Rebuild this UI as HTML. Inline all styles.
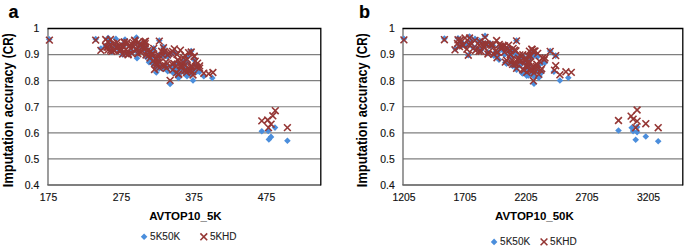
<!DOCTYPE html>
<html><head><meta charset="utf-8"><title>chart</title>
<style>
html,body{margin:0;padding:0;background:#fff;}
body{width:685px;height:249px;position:relative;overflow:hidden;font-family:"Liberation Sans",sans-serif;}
svg text{font-family:"Liberation Sans",sans-serif;}
.t{font-size:10.4px;fill:#111;stroke:#111;stroke-width:0.15px;}
.l{font-size:10px;fill:#222;stroke:#222;stroke-width:0.1px;}
.b{font-size:11.5px;font-weight:bold;fill:#000;}
.by{font-size:14px;font-weight:bold;fill:#000;}
.p{font-size:18px;font-weight:bold;fill:#000;stroke:#000;stroke-width:0.2px;}
</style></head><body>
<svg width="685" height="249" viewBox="0 0 685 249" style="position:absolute;left:0;top:0">
<rect width="685" height="249" fill="#fff"/>
<line x1="48.0" x2="320.8" y1="54.58" y2="54.58" stroke="#7f7f7f" stroke-width="1.15"/>
<line x1="48.0" x2="320.8" y1="80.67" y2="80.67" stroke="#7f7f7f" stroke-width="1.15"/>
<line x1="48.0" x2="320.8" y1="106.75" y2="106.75" stroke="#7f7f7f" stroke-width="1.15"/>
<line x1="48.0" x2="320.8" y1="132.83" y2="132.83" stroke="#7f7f7f" stroke-width="1.15"/>
<line x1="48.0" x2="320.8" y1="158.91" y2="158.91" stroke="#7f7f7f" stroke-width="1.15"/>
<line x1="47.4" x2="320.8" y1="185.0" y2="185.0" stroke="#555" stroke-width="1.4"/>
<line x1="48.0" x2="48.0" y1="28.5" y2="185.0" stroke="#686868" stroke-width="1.3"/>
<path d="M47.5 28.5L320.8 28.5L320.8 185.5" stroke="#000" stroke-width="1.3" fill="none"/>
<path d="M49.2 35.9L52.5 39.2L49.2 42.5L45.9 39.2Z" fill="#4B8EDC"/>
<path d="M95.7 35.7L99.0 39.0L95.7 42.3L92.4 39.0Z" fill="#4B8EDC"/>
<path d="M100.9 45.3L104.2 48.6L100.9 51.9L97.6 48.6Z" fill="#4B8EDC"/>
<path d="M108.1 34.8L111.4 38.1L108.1 41.4L104.8 38.1Z" fill="#4B8EDC"/>
<path d="M106.9 42.9L110.2 46.2L106.9 49.5L103.6 46.2Z" fill="#4B8EDC"/>
<path d="M115.9 35.6L119.2 38.9L115.9 42.2L112.6 38.9Z" fill="#4B8EDC"/>
<path d="M119.5 45.9L122.8 49.2L119.5 52.5L116.2 49.2Z" fill="#4B8EDC"/>
<path d="M125.0 36.2L128.3 39.5L125.0 42.8L121.7 39.5Z" fill="#4B8EDC"/>
<path d="M136.4 34.2L139.7 37.5L136.4 40.8L133.1 37.5Z" fill="#4B8EDC"/>
<path d="M130.0 48.9L133.3 52.2L130.0 55.5L126.7 52.2Z" fill="#4B8EDC"/>
<path d="M146.6 50.1L149.9 53.4L146.6 56.7L143.3 53.4Z" fill="#4B8EDC"/>
<path d="M137.0 54.9L140.3 58.2L137.0 61.5L133.7 58.2Z" fill="#4B8EDC"/>
<path d="M159.3 37.2L162.6 40.5L159.3 43.8L156.0 40.5Z" fill="#4B8EDC"/>
<path d="M163.5 43.7L166.8 47.0L163.5 50.3L160.2 47.0Z" fill="#4B8EDC"/>
<path d="M191.2 47.7L194.5 51.0L191.2 54.3L187.9 51.0Z" fill="#4B8EDC"/>
<path d="M170.1 80.7L173.4 84.0L170.1 87.3L166.8 84.0Z" fill="#4B8EDC"/>
<path d="M156.3 69.2L159.6 72.5L156.3 75.8L153.0 72.5Z" fill="#4B8EDC"/>
<path d="M149.0 59.0L152.3 62.3L149.0 65.6L145.7 62.3Z" fill="#4B8EDC"/>
<path d="M167.7 68.0L171.0 71.3L167.7 74.6L164.4 71.3Z" fill="#4B8EDC"/>
<path d="M178.5 74.7L181.8 78.0L178.5 81.3L175.2 78.0Z" fill="#4B8EDC"/>
<path d="M187.0 72.9L190.3 76.2L187.0 79.5L183.7 76.2Z" fill="#4B8EDC"/>
<path d="M193.0 77.1L196.3 80.4L193.0 83.7L189.7 80.4Z" fill="#4B8EDC"/>
<path d="M199.6 68.6L202.9 71.9L199.6 75.2L196.3 71.9Z" fill="#4B8EDC"/>
<path d="M203.8 72.9L207.1 76.2L203.8 79.5L200.5 76.2Z" fill="#4B8EDC"/>
<path d="M212.3 74.7L215.6 78.0L212.3 81.3L209.0 78.0Z" fill="#4B8EDC"/>
<path d="M261.8 128.0L265.1 131.3L261.8 134.6L258.5 131.3Z" fill="#4B8EDC"/>
<path d="M268.2 127.7L271.5 131.0L268.2 134.3L264.9 131.0Z" fill="#4B8EDC"/>
<path d="M275.0 124.3L278.3 127.6L275.0 130.9L271.7 127.6Z" fill="#4B8EDC"/>
<path d="M271.0 133.6L274.3 136.9L271.0 140.2L267.7 136.9Z" fill="#4B8EDC"/>
<path d="M268.9 136.1L272.2 139.4L268.9 142.7L265.6 139.4Z" fill="#4B8EDC"/>
<path d="M287.4 137.5L290.7 140.8L287.4 144.1L284.1 140.8Z" fill="#4B8EDC"/>
<path d="M105.6 42.8L108.9 46.1L105.6 49.4L102.3 46.1Z" fill="#4B8EDC"/>
<path d="M107.0 42.7L110.3 46.0L107.0 49.3L103.7 46.0Z" fill="#4B8EDC"/>
<path d="M108.0 42.9L111.3 46.2L108.0 49.5L104.7 46.2Z" fill="#4B8EDC"/>
<path d="M110.1 39.5L113.4 42.8L110.1 46.1L106.8 42.8Z" fill="#4B8EDC"/>
<path d="M110.6 46.3L113.9 49.6L110.6 52.9L107.3 49.6Z" fill="#4B8EDC"/>
<path d="M111.8 48.3L115.1 51.6L111.8 54.9L108.5 51.6Z" fill="#4B8EDC"/>
<path d="M114.0 45.3L117.3 48.6L114.0 51.9L110.7 48.6Z" fill="#4B8EDC"/>
<path d="M114.5 44.5L117.8 47.8L114.5 51.1L111.2 47.8Z" fill="#4B8EDC"/>
<path d="M116.1 41.7L119.4 45.0L116.1 48.3L112.8 45.0Z" fill="#4B8EDC"/>
<path d="M117.8 44.2L121.1 47.5L117.8 50.8L114.5 47.5Z" fill="#4B8EDC"/>
<path d="M119.3 46.6L122.6 49.9L119.3 53.2L116.0 49.9Z" fill="#4B8EDC"/>
<path d="M120.8 44.5L124.1 47.8L120.8 51.1L117.5 47.8Z" fill="#4B8EDC"/>
<path d="M122.6 51.1L125.9 54.4L122.6 57.7L119.3 54.4Z" fill="#4B8EDC"/>
<path d="M123.6 42.7L126.9 46.0L123.6 49.3L120.3 46.0Z" fill="#4B8EDC"/>
<path d="M124.4 39.6L127.7 42.9L124.4 46.2L121.1 42.9Z" fill="#4B8EDC"/>
<path d="M125.9 49.5L129.2 52.8L125.9 56.1L122.6 52.8Z" fill="#4B8EDC"/>
<path d="M128.0 49.7L131.3 53.0L128.0 56.3L124.7 53.0Z" fill="#4B8EDC"/>
<path d="M128.4 50.6L131.7 53.9L128.4 57.2L125.1 53.9Z" fill="#4B8EDC"/>
<path d="M130.8 43.7L134.1 47.0L130.8 50.3L127.5 47.0Z" fill="#4B8EDC"/>
<path d="M131.6 49.2L134.9 52.5L131.6 55.8L128.3 52.5Z" fill="#4B8EDC"/>
<path d="M132.3 42.8L135.6 46.1L132.3 49.4L129.0 46.1Z" fill="#4B8EDC"/>
<path d="M134.5 39.6L137.8 42.9L134.5 46.2L131.2 42.9Z" fill="#4B8EDC"/>
<path d="M135.0 38.7L138.3 42.0L135.0 45.3L131.7 42.0Z" fill="#4B8EDC"/>
<path d="M136.5 46.5L139.8 49.8L136.5 53.1L133.2 49.8Z" fill="#4B8EDC"/>
<path d="M137.8 49.5L141.1 52.8L137.8 56.1L134.5 52.8Z" fill="#4B8EDC"/>
<path d="M139.8 40.8L143.1 44.1L139.8 47.4L136.5 44.1Z" fill="#4B8EDC"/>
<path d="M140.6 43.5L143.9 46.8L140.6 50.1L137.3 46.8Z" fill="#4B8EDC"/>
<path d="M142.7 45.0L146.0 48.3L142.7 51.6L139.4 48.3Z" fill="#4B8EDC"/>
<path d="M143.3 46.7L146.6 50.0L143.3 53.3L140.0 50.0Z" fill="#4B8EDC"/>
<path d="M145.2 42.5L148.5 45.8L145.2 49.1L141.9 45.8Z" fill="#4B8EDC"/>
<path d="M146.0 45.5L149.3 48.8L146.0 52.1L142.7 48.8Z" fill="#4B8EDC"/>
<path d="M147.5 46.8L150.8 50.1L147.5 53.4L144.2 50.1Z" fill="#4B8EDC"/>
<path d="M148.6 52.4L151.9 55.7L148.6 59.0L145.3 55.7Z" fill="#4B8EDC"/>
<path d="M150.6 48.8L153.9 52.1L150.6 55.4L147.3 52.1Z" fill="#4B8EDC"/>
<path d="M152.4 51.5L155.7 54.8L152.4 58.1L149.1 54.8Z" fill="#4B8EDC"/>
<path d="M153.7 45.1L157.0 48.4L153.7 51.7L150.4 48.4Z" fill="#4B8EDC"/>
<path d="M155.1 59.8L158.4 63.1L155.1 66.4L151.8 63.1Z" fill="#4B8EDC"/>
<path d="M155.5 58.1L158.8 61.4L155.5 64.7L152.2 61.4Z" fill="#4B8EDC"/>
<path d="M156.8 63.8L160.1 67.1L156.8 70.4L153.5 67.1Z" fill="#4B8EDC"/>
<path d="M158.7 51.8L162.0 55.1L158.7 58.4L155.4 55.1Z" fill="#4B8EDC"/>
<path d="M159.3 65.1L162.6 68.4L159.3 71.7L156.0 68.4Z" fill="#4B8EDC"/>
<path d="M161.6 50.4L164.9 53.7L161.6 57.0L158.3 53.7Z" fill="#4B8EDC"/>
<path d="M162.8 52.3L166.1 55.6L162.8 58.9L159.5 55.6Z" fill="#4B8EDC"/>
<path d="M164.3 49.1L167.6 52.4L164.3 55.7L161.0 52.4Z" fill="#4B8EDC"/>
<path d="M165.5 64.3L168.8 67.6L165.5 70.9L162.2 67.6Z" fill="#4B8EDC"/>
<path d="M166.5 65.8L169.8 69.1L166.5 72.4L163.2 69.1Z" fill="#4B8EDC"/>
<path d="M167.5 53.3L170.8 56.6L167.5 59.9L164.2 56.6Z" fill="#4B8EDC"/>
<path d="M168.9 51.6L172.2 54.9L168.9 58.2L165.6 54.9Z" fill="#4B8EDC"/>
<path d="M170.9 51.0L174.2 54.3L170.9 57.6L167.6 54.3Z" fill="#4B8EDC"/>
<path d="M172.7 69.2L176.0 72.5L172.7 75.8L169.4 72.5Z" fill="#4B8EDC"/>
<path d="M173.8 61.1L177.1 64.4L173.8 67.7L170.5 64.4Z" fill="#4B8EDC"/>
<path d="M174.3 49.0L177.6 52.3L174.3 55.6L171.0 52.3Z" fill="#4B8EDC"/>
<path d="M176.5 70.3L179.8 73.6L176.5 76.9L173.2 73.6Z" fill="#4B8EDC"/>
<path d="M177.8 59.9L181.1 63.2L177.8 66.5L174.5 63.2Z" fill="#4B8EDC"/>
<path d="M178.7 71.8L182.0 75.1L178.7 78.4L175.4 75.1Z" fill="#4B8EDC"/>
<path d="M180.4 66.0L183.7 69.3L180.4 72.6L177.1 69.3Z" fill="#4B8EDC"/>
<path d="M182.0 65.5L185.3 68.8L182.0 72.1L178.7 68.8Z" fill="#4B8EDC"/>
<path d="M183.6 57.8L186.9 61.1L183.6 64.4L180.3 61.1Z" fill="#4B8EDC"/>
<path d="M184.9 69.7L188.2 73.0L184.9 76.3L181.6 73.0Z" fill="#4B8EDC"/>
<path d="M186.1 69.7L189.4 73.0L186.1 76.3L182.8 73.0Z" fill="#4B8EDC"/>
<path d="M187.3 59.2L190.6 62.5L187.3 65.8L184.0 62.5Z" fill="#4B8EDC"/>
<path d="M188.6 52.7L191.9 56.0L188.6 59.3L185.3 56.0Z" fill="#4B8EDC"/>
<path d="M190.5 70.7L193.8 74.0L190.5 77.3L187.2 74.0Z" fill="#4B8EDC"/>
<path d="M191.0 67.6L194.3 70.9L191.0 74.2L187.7 70.9Z" fill="#4B8EDC"/>
<path d="M192.5 70.2L195.8 73.5L192.5 76.8L189.2 73.5Z" fill="#4B8EDC"/>
<path d="M194.2 56.7L197.5 60.0L194.2 63.3L190.9 60.0Z" fill="#4B8EDC"/>
<path d="M195.2 61.6L198.5 64.9L195.2 68.2L191.9 64.9Z" fill="#4B8EDC"/>
<path d="M196.6 68.3L199.9 71.6L196.6 74.9L193.3 71.6Z" fill="#4B8EDC"/>
<path d="M197.6 62.7L200.9 66.0L197.6 69.3L194.3 66.0Z" fill="#4B8EDC"/>
<path d="M199.6 67.3L202.9 70.6L199.6 73.9L196.3 70.6Z" fill="#4B8EDC"/>
<path d="M150.0 57.2L153.3 60.5L150.0 63.8L146.7 60.5Z" fill="#4B8EDC"/>
<path d="M153.0 60.7L156.3 64.0L153.0 67.3L149.7 64.0Z" fill="#4B8EDC"/>
<path d="M157.0 63.7L160.3 67.0L157.0 70.3L153.7 67.0Z" fill="#4B8EDC"/>
<path d="M160.0 61.7L163.3 65.0L160.0 68.3L156.7 65.0Z" fill="#4B8EDC"/>
<path d="M163.0 65.7L166.3 69.0L163.0 72.3L159.7 69.0Z" fill="#4B8EDC"/>
<path d="M166.0 62.7L169.3 66.0L166.0 69.3L162.7 66.0Z" fill="#4B8EDC"/>
<path d="M152.0 53.7L155.3 57.0L152.0 60.3L148.7 57.0Z" fill="#4B8EDC"/>
<path d="M158.0 56.7L161.3 60.0L158.0 63.3L154.7 60.0Z" fill="#4B8EDC"/>
<path d="M146.0 53.7L149.3 57.0L146.0 60.3L142.7 57.0Z" fill="#4B8EDC"/>
<path d="M172.0 64.7L175.3 68.0L172.0 71.3L168.7 68.0Z" fill="#4B8EDC"/>
<path d="M176.0 66.7L179.3 70.0L176.0 73.3L172.7 70.0Z" fill="#4B8EDC"/>
<path d="M181.0 68.7L184.3 72.0L181.0 75.3L177.7 72.0Z" fill="#4B8EDC"/>
<path d="M185.0 65.7L188.3 69.0L185.0 72.3L181.7 69.0Z" fill="#4B8EDC"/>
<path d="M189.0 69.7L192.3 73.0L189.0 76.3L185.7 73.0Z" fill="#4B8EDC"/>
<path d="M183.0 62.7L186.3 66.0L183.0 69.3L179.7 66.0Z" fill="#4B8EDC"/>
<path d="M178.0 59.7L181.3 63.0L178.0 66.3L174.7 63.0Z" fill="#4B8EDC"/>
<path d="M192.0 66.7L195.3 70.0L192.0 73.3L188.7 70.0Z" fill="#4B8EDC"/>
<path d="M46.0 36.7L52.8 43.5M46.0 43.5L52.8 36.7" stroke="#953735" stroke-width="1.6" fill="none"/>
<path d="M92.3 36.7L99.1 43.5M92.3 43.5L99.1 36.7" stroke="#953735" stroke-width="1.6" fill="none"/>
<path d="M97.5 47.0L104.3 53.8M97.5 53.8L104.3 47.0" stroke="#953735" stroke-width="1.6" fill="none"/>
<path d="M104.7 46.4L111.5 53.2M104.7 53.2L111.5 46.4" stroke="#953735" stroke-width="1.6" fill="none"/>
<path d="M102.3 36.1L109.1 42.9M102.3 42.9L109.1 36.1" stroke="#953735" stroke-width="1.6" fill="none"/>
<path d="M104.6 38.5L111.4 45.3M104.6 45.3L111.4 38.5" stroke="#953735" stroke-width="1.6" fill="none"/>
<path d="M107.1 36.1L113.9 42.9M107.1 42.9L113.9 36.1" stroke="#953735" stroke-width="1.6" fill="none"/>
<path d="M110.1 40.4L116.9 47.2M110.1 47.2L116.9 40.4" stroke="#953735" stroke-width="1.6" fill="none"/>
<path d="M113.6 39.1L120.4 45.9M113.6 45.9L120.4 39.1" stroke="#953735" stroke-width="1.6" fill="none"/>
<path d="M115.6 42.8L122.4 49.6M115.6 49.6L122.4 42.8" stroke="#953735" stroke-width="1.6" fill="none"/>
<path d="M120.9 38.5L127.7 45.3M120.9 45.3L127.7 38.5" stroke="#953735" stroke-width="1.6" fill="none"/>
<path d="M119.1 42.1L125.9 48.9M119.1 48.9L125.9 42.1" stroke="#953735" stroke-width="1.6" fill="none"/>
<path d="M123.9 39.1L130.7 45.9M123.9 45.9L130.7 39.1" stroke="#953735" stroke-width="1.6" fill="none"/>
<path d="M126.3 42.1L133.1 48.9M126.3 48.9L133.1 42.1" stroke="#953735" stroke-width="1.6" fill="none"/>
<path d="M131.2 36.7L138.0 43.5M131.2 43.5L138.0 36.7" stroke="#953735" stroke-width="1.6" fill="none"/>
<path d="M134.6 39.1L141.4 45.9M134.6 45.9L141.4 39.1" stroke="#953735" stroke-width="1.6" fill="none"/>
<path d="M142.0 37.9L148.8 44.7M142.0 44.7L148.8 37.9" stroke="#953735" stroke-width="1.6" fill="none"/>
<path d="M139.6 42.8L146.4 49.6M139.6 49.6L146.4 42.8" stroke="#953735" stroke-width="1.6" fill="none"/>
<path d="M117.6 47.1L124.4 53.9M117.6 53.9L124.4 47.1" stroke="#953735" stroke-width="1.6" fill="none"/>
<path d="M122.6 46.1L129.4 52.9M122.6 52.9L129.4 46.1" stroke="#953735" stroke-width="1.6" fill="none"/>
<path d="M132.6 46.1L139.4 52.9M132.6 52.9L139.4 46.1" stroke="#953735" stroke-width="1.6" fill="none"/>
<path d="M137.6 49.1L144.4 55.9M137.6 55.9L144.4 49.1" stroke="#953735" stroke-width="1.6" fill="none"/>
<path d="M140.8 38.3L147.6 45.1M140.8 45.1L147.6 38.3" stroke="#953735" stroke-width="1.6" fill="none"/>
<path d="M155.9 37.7L162.7 44.5M155.9 44.5L162.7 37.7" stroke="#953735" stroke-width="1.6" fill="none"/>
<path d="M160.1 44.4L166.9 51.2M160.1 51.2L166.9 44.4" stroke="#953735" stroke-width="1.6" fill="none"/>
<path d="M169.1 48.0L175.9 54.8M169.1 54.8L175.9 48.0" stroke="#953735" stroke-width="1.6" fill="none"/>
<path d="M177.0 46.8L183.8 53.6M177.0 53.6L183.8 46.8" stroke="#953735" stroke-width="1.6" fill="none"/>
<path d="M187.8 48.6L194.6 55.4M187.8 55.4L194.6 48.6" stroke="#953735" stroke-width="1.6" fill="none"/>
<path d="M190.8 52.8L197.6 59.6M190.8 59.6L197.6 52.8" stroke="#953735" stroke-width="1.6" fill="none"/>
<path d="M173.6 51.1L180.4 57.9M173.6 57.9L180.4 51.1" stroke="#953735" stroke-width="1.6" fill="none"/>
<path d="M181.6 52.1L188.4 58.9M181.6 58.9L188.4 52.1" stroke="#953735" stroke-width="1.6" fill="none"/>
<path d="M166.7 77.0L173.5 83.8M166.7 83.8L173.5 77.0" stroke="#953735" stroke-width="1.6" fill="none"/>
<path d="M151.1 66.1L157.9 72.9M151.1 72.9L157.9 66.1" stroke="#953735" stroke-width="1.6" fill="none"/>
<path d="M175.1 71.0L181.9 77.8M175.1 77.8L181.9 71.0" stroke="#953735" stroke-width="1.6" fill="none"/>
<path d="M183.1 69.1L189.9 75.9M183.1 75.9L189.9 69.1" stroke="#953735" stroke-width="1.6" fill="none"/>
<path d="M189.6 71.6L196.4 78.4M189.6 78.4L196.4 71.6" stroke="#953735" stroke-width="1.6" fill="none"/>
<path d="M196.2 62.5L203.0 69.3M196.2 69.3L203.0 62.5" stroke="#953735" stroke-width="1.6" fill="none"/>
<path d="M188.4 63.1L195.2 69.9M188.4 69.9L195.2 63.1" stroke="#953735" stroke-width="1.6" fill="none"/>
<path d="M200.4 69.8L207.2 76.6M200.4 76.6L207.2 69.8" stroke="#953735" stroke-width="1.6" fill="none"/>
<path d="M209.5 69.1L216.3 75.9M209.5 75.9L216.3 69.1" stroke="#953735" stroke-width="1.6" fill="none"/>
<path d="M205.3 70.4L212.1 77.2M205.3 77.2L212.1 70.4" stroke="#953735" stroke-width="1.6" fill="none"/>
<path d="M258.4 117.5L265.2 124.3M258.4 124.3L265.2 117.5" stroke="#953735" stroke-width="1.6" fill="none"/>
<path d="M264.3 116.6L271.1 123.4M264.3 123.4L271.1 116.6" stroke="#953735" stroke-width="1.6" fill="none"/>
<path d="M267.7 120.8L274.5 127.6M267.7 127.6L274.5 120.8" stroke="#953735" stroke-width="1.6" fill="none"/>
<path d="M265.1 124.2L271.9 131.0M265.1 131.0L271.9 124.2" stroke="#953735" stroke-width="1.6" fill="none"/>
<path d="M269.4 112.4L276.2 119.2M269.4 119.2L276.2 112.4" stroke="#953735" stroke-width="1.6" fill="none"/>
<path d="M271.9 107.3L278.7 114.1M271.9 114.1L278.7 107.3" stroke="#953735" stroke-width="1.6" fill="none"/>
<path d="M284.0 124.2L290.8 131.0M284.0 131.0L290.8 124.2" stroke="#953735" stroke-width="1.6" fill="none"/>
<path d="M102.2 42.9L109.0 49.7M102.2 49.7L109.0 42.9" stroke="#953735" stroke-width="1.6" fill="none"/>
<path d="M103.6 43.7L110.4 50.5M103.6 50.5L110.4 43.7" stroke="#953735" stroke-width="1.6" fill="none"/>
<path d="M104.6 43.8L111.4 50.6M104.6 50.6L111.4 43.8" stroke="#953735" stroke-width="1.6" fill="none"/>
<path d="M106.7 41.2L113.5 48.0M106.7 48.0L113.5 41.2" stroke="#953735" stroke-width="1.6" fill="none"/>
<path d="M107.2 46.8L114.0 53.6M107.2 53.6L114.0 46.8" stroke="#953735" stroke-width="1.6" fill="none"/>
<path d="M108.4 48.0L115.2 54.8M108.4 54.8L115.2 48.0" stroke="#953735" stroke-width="1.6" fill="none"/>
<path d="M110.6 47.2L117.4 54.0M110.6 54.0L117.4 47.2" stroke="#953735" stroke-width="1.6" fill="none"/>
<path d="M111.1 46.7L117.9 53.5M111.1 53.5L117.9 46.7" stroke="#953735" stroke-width="1.6" fill="none"/>
<path d="M112.7 43.9L119.5 50.7M112.7 50.7L119.5 43.9" stroke="#953735" stroke-width="1.6" fill="none"/>
<path d="M114.4 43.9L121.2 50.7M114.4 50.7L121.2 43.9" stroke="#953735" stroke-width="1.6" fill="none"/>
<path d="M115.9 47.3L122.7 54.1M115.9 54.1L122.7 47.3" stroke="#953735" stroke-width="1.6" fill="none"/>
<path d="M117.4 45.7L124.2 52.5M117.4 52.5L124.2 45.7" stroke="#953735" stroke-width="1.6" fill="none"/>
<path d="M119.2 50.6L126.0 57.4M119.2 57.4L126.0 50.6" stroke="#953735" stroke-width="1.6" fill="none"/>
<path d="M120.2 43.9L127.0 50.7M120.2 50.7L127.0 43.9" stroke="#953735" stroke-width="1.6" fill="none"/>
<path d="M121.0 39.1L127.8 45.9M121.0 45.9L127.8 39.1" stroke="#953735" stroke-width="1.6" fill="none"/>
<path d="M122.5 50.1L129.3 56.9M122.5 56.9L129.3 50.1" stroke="#953735" stroke-width="1.6" fill="none"/>
<path d="M124.6 51.4L131.4 58.2M124.6 58.2L131.4 51.4" stroke="#953735" stroke-width="1.6" fill="none"/>
<path d="M125.0 50.8L131.8 57.6M125.0 57.6L131.8 50.8" stroke="#953735" stroke-width="1.6" fill="none"/>
<path d="M127.4 45.1L134.2 51.9M127.4 51.9L134.2 45.1" stroke="#953735" stroke-width="1.6" fill="none"/>
<path d="M128.2 49.9L135.0 56.7M128.2 56.7L135.0 49.9" stroke="#953735" stroke-width="1.6" fill="none"/>
<path d="M128.9 41.4L135.7 48.2M128.9 48.2L135.7 41.4" stroke="#953735" stroke-width="1.6" fill="none"/>
<path d="M131.1 40.2L137.9 47.0M131.1 47.0L137.9 40.2" stroke="#953735" stroke-width="1.6" fill="none"/>
<path d="M131.6 37.6L138.4 44.4M131.6 44.4L138.4 37.6" stroke="#953735" stroke-width="1.6" fill="none"/>
<path d="M133.1 46.4L139.9 53.2M133.1 53.2L139.9 46.4" stroke="#953735" stroke-width="1.6" fill="none"/>
<path d="M134.4 50.3L141.2 57.1M134.4 57.1L141.2 50.3" stroke="#953735" stroke-width="1.6" fill="none"/>
<path d="M136.4 40.6L143.2 47.4M136.4 47.4L143.2 40.6" stroke="#953735" stroke-width="1.6" fill="none"/>
<path d="M137.2 41.7L144.0 48.5M137.2 48.5L144.0 41.7" stroke="#953735" stroke-width="1.6" fill="none"/>
<path d="M139.3 43.3L146.1 50.1M139.3 50.1L146.1 43.3" stroke="#953735" stroke-width="1.6" fill="none"/>
<path d="M139.9 45.1L146.7 51.9M139.9 51.9L146.7 45.1" stroke="#953735" stroke-width="1.6" fill="none"/>
<path d="M141.8 40.3L148.6 47.1M141.8 47.1L148.6 40.3" stroke="#953735" stroke-width="1.6" fill="none"/>
<path d="M142.6 44.0L149.4 50.8M142.6 50.8L149.4 44.0" stroke="#953735" stroke-width="1.6" fill="none"/>
<path d="M144.1 47.3L150.9 54.1M144.1 54.1L150.9 47.3" stroke="#953735" stroke-width="1.6" fill="none"/>
<path d="M145.2 52.2L152.0 59.0M145.2 59.0L152.0 52.2" stroke="#953735" stroke-width="1.6" fill="none"/>
<path d="M147.2 47.9L154.0 54.7M147.2 54.7L154.0 47.9" stroke="#953735" stroke-width="1.6" fill="none"/>
<path d="M149.0 50.1L155.8 56.9M149.0 56.9L155.8 50.1" stroke="#953735" stroke-width="1.6" fill="none"/>
<path d="M150.3 45.0L157.1 51.8M150.3 51.8L157.1 45.0" stroke="#953735" stroke-width="1.6" fill="none"/>
<path d="M151.7 59.3L158.5 66.1M151.7 66.1L158.5 59.3" stroke="#953735" stroke-width="1.6" fill="none"/>
<path d="M152.1 55.6L158.9 62.4M152.1 62.4L158.9 55.6" stroke="#953735" stroke-width="1.6" fill="none"/>
<path d="M153.4 61.3L160.2 68.1M153.4 68.1L160.2 61.3" stroke="#953735" stroke-width="1.6" fill="none"/>
<path d="M155.3 51.6L162.1 58.4M155.3 58.4L162.1 51.6" stroke="#953735" stroke-width="1.6" fill="none"/>
<path d="M155.9 64.4L162.7 71.2M155.9 71.2L162.7 64.4" stroke="#953735" stroke-width="1.6" fill="none"/>
<path d="M158.2 47.9L165.0 54.7M158.2 54.7L165.0 47.9" stroke="#953735" stroke-width="1.6" fill="none"/>
<path d="M159.4 51.6L166.2 58.4M159.4 58.4L166.2 51.6" stroke="#953735" stroke-width="1.6" fill="none"/>
<path d="M160.9 48.1L167.7 54.9M160.9 54.9L167.7 48.1" stroke="#953735" stroke-width="1.6" fill="none"/>
<path d="M162.1 62.2L168.9 69.0M162.1 69.0L168.9 62.2" stroke="#953735" stroke-width="1.6" fill="none"/>
<path d="M163.1 64.8L169.9 71.6M163.1 71.6L169.9 64.8" stroke="#953735" stroke-width="1.6" fill="none"/>
<path d="M164.1 51.6L170.9 58.4M164.1 58.4L170.9 51.6" stroke="#953735" stroke-width="1.6" fill="none"/>
<path d="M165.5 50.1L172.3 56.9M165.5 56.9L172.3 50.1" stroke="#953735" stroke-width="1.6" fill="none"/>
<path d="M167.5 49.4L174.3 56.2M167.5 56.2L174.3 49.4" stroke="#953735" stroke-width="1.6" fill="none"/>
<path d="M169.3 66.5L176.1 73.3M169.3 73.3L176.1 66.5" stroke="#953735" stroke-width="1.6" fill="none"/>
<path d="M170.4 60.0L177.2 66.8M170.4 66.8L177.2 60.0" stroke="#953735" stroke-width="1.6" fill="none"/>
<path d="M170.9 45.5L177.7 52.3M170.9 52.3L177.7 45.5" stroke="#953735" stroke-width="1.6" fill="none"/>
<path d="M173.1 69.4L179.9 76.2M173.1 76.2L179.9 69.4" stroke="#953735" stroke-width="1.6" fill="none"/>
<path d="M174.4 56.7L181.2 63.5M174.4 63.5L181.2 56.7" stroke="#953735" stroke-width="1.6" fill="none"/>
<path d="M175.3 70.6L182.1 77.4M175.3 77.4L182.1 70.6" stroke="#953735" stroke-width="1.6" fill="none"/>
<path d="M177.0 62.2L183.8 69.0M177.0 69.0L183.8 62.2" stroke="#953735" stroke-width="1.6" fill="none"/>
<path d="M178.6 61.9L185.4 68.7M178.6 68.7L185.4 61.9" stroke="#953735" stroke-width="1.6" fill="none"/>
<path d="M180.2 54.5L187.0 61.3M180.2 61.3L187.0 54.5" stroke="#953735" stroke-width="1.6" fill="none"/>
<path d="M181.5 67.2L188.3 74.0M181.5 74.0L188.3 67.2" stroke="#953735" stroke-width="1.6" fill="none"/>
<path d="M182.7 66.6L189.5 73.4M182.7 73.4L189.5 66.6" stroke="#953735" stroke-width="1.6" fill="none"/>
<path d="M183.9 56.0L190.7 62.8M183.9 62.8L190.7 56.0" stroke="#953735" stroke-width="1.6" fill="none"/>
<path d="M185.2 49.3L192.0 56.1M185.2 56.1L192.0 49.3" stroke="#953735" stroke-width="1.6" fill="none"/>
<path d="M187.1 66.9L193.9 73.7M187.1 73.7L193.9 66.9" stroke="#953735" stroke-width="1.6" fill="none"/>
<path d="M187.6 64.2L194.4 71.0M187.6 71.0L194.4 64.2" stroke="#953735" stroke-width="1.6" fill="none"/>
<path d="M189.1 68.3L195.9 75.1M189.1 75.1L195.9 68.3" stroke="#953735" stroke-width="1.6" fill="none"/>
<path d="M190.8 53.1L197.6 59.9M190.8 59.9L197.6 53.1" stroke="#953735" stroke-width="1.6" fill="none"/>
<path d="M191.8 57.7L198.6 64.5M191.8 64.5L198.6 57.7" stroke="#953735" stroke-width="1.6" fill="none"/>
<path d="M193.2 63.6L200.0 70.4M193.2 70.4L200.0 63.6" stroke="#953735" stroke-width="1.6" fill="none"/>
<path d="M194.2 59.8L201.0 66.6M194.2 66.6L201.0 59.8" stroke="#953735" stroke-width="1.6" fill="none"/>
<path d="M196.2 64.7L203.0 71.5M196.2 71.5L203.0 64.7" stroke="#953735" stroke-width="1.6" fill="none"/>
<path d="M146.6 54.6L153.4 61.4M146.6 61.4L153.4 54.6" stroke="#953735" stroke-width="1.6" fill="none"/>
<path d="M149.6 57.6L156.4 64.4M149.6 64.4L156.4 57.6" stroke="#953735" stroke-width="1.6" fill="none"/>
<path d="M153.6 59.6L160.4 66.4M153.6 66.4L160.4 59.6" stroke="#953735" stroke-width="1.6" fill="none"/>
<path d="M156.6 58.6L163.4 65.4M156.6 65.4L163.4 58.6" stroke="#953735" stroke-width="1.6" fill="none"/>
<path d="M159.6 62.6L166.4 69.4M159.6 69.4L166.4 62.6" stroke="#953735" stroke-width="1.6" fill="none"/>
<path d="M162.6 58.6L169.4 65.4M162.6 65.4L169.4 58.6" stroke="#953735" stroke-width="1.6" fill="none"/>
<path d="M148.6 51.6L155.4 58.4M148.6 58.4L155.4 51.6" stroke="#953735" stroke-width="1.6" fill="none"/>
<path d="M154.6 53.6L161.4 60.4M154.6 60.4L161.4 53.6" stroke="#953735" stroke-width="1.6" fill="none"/>
<path d="M142.6 51.6L149.4 58.4M142.6 58.4L149.4 51.6" stroke="#953735" stroke-width="1.6" fill="none"/>
<path d="M168.6 60.6L175.4 67.4M168.6 67.4L175.4 60.6" stroke="#953735" stroke-width="1.6" fill="none"/>
<path d="M172.6 62.6L179.4 69.4M172.6 69.4L179.4 62.6" stroke="#953735" stroke-width="1.6" fill="none"/>
<path d="M177.6 64.6L184.4 71.4M177.6 71.4L184.4 64.6" stroke="#953735" stroke-width="1.6" fill="none"/>
<path d="M181.6 61.6L188.4 68.4M181.6 68.4L188.4 61.6" stroke="#953735" stroke-width="1.6" fill="none"/>
<path d="M185.6 65.6L192.4 72.4M185.6 72.4L192.4 65.6" stroke="#953735" stroke-width="1.6" fill="none"/>
<path d="M179.6 58.6L186.4 65.4M179.6 65.4L186.4 58.6" stroke="#953735" stroke-width="1.6" fill="none"/>
<path d="M174.6 56.6L181.4 63.4M174.6 63.4L181.4 56.6" stroke="#953735" stroke-width="1.6" fill="none"/>
<path d="M188.6 62.6L195.4 69.4M188.6 69.4L195.4 62.6" stroke="#953735" stroke-width="1.6" fill="none"/>
<text x="39.3" y="32" text-anchor="end" class="t">1</text>
<text x="39.3" y="58" text-anchor="end" class="t">0.9</text>
<text x="39.3" y="85" text-anchor="end" class="t">0.8</text>
<text x="39.3" y="111" text-anchor="end" class="t">0.7</text>
<text x="39.3" y="137" text-anchor="end" class="t">0.6</text>
<text x="39.3" y="163" text-anchor="end" class="t">0.5</text>
<text x="39.3" y="189" text-anchor="end" class="t">0.4</text>
<text x="48.5" y="201.2" text-anchor="middle" class="t">175</text>
<text x="121.5" y="201.2" text-anchor="middle" class="t">275</text>
<text x="194" y="201.2" text-anchor="middle" class="t">375</text>
<text x="266.5" y="201.2" text-anchor="middle" class="t">475</text>
<text x="185.4" y="220" text-anchor="middle" class="b">AVTOP10_5K</text>
<text transform="translate(12.9,187.3) rotate(-90)" textLength="65.9" lengthAdjust="spacingAndGlyphs" class="by">Imputation</text>
<text transform="translate(12.9,117.2) rotate(-90)" textLength="54.6" lengthAdjust="spacingAndGlyphs" class="by">accuracy</text>
<text transform="translate(12.9,58.2) rotate(-90)" textLength="24.8" lengthAdjust="spacingAndGlyphs" class="by">(CR)</text>
<path d="M144.1 233.5L147.4 236.8L144.1 240.1L140.8 236.8Z" fill="#4B8EDC"/>
<text x="150.1" y="240.1" class="l">5K50K</text>
<path d="M200.4 233.4L207.2 240.2M200.4 240.2L207.2 233.4" stroke="#953735" stroke-width="1.6" fill="none"/>
<text x="209.9" y="240.1" class="l">5KHD</text>
<line x1="403.0" x2="682.8" y1="54.58" y2="54.58" stroke="#7f7f7f" stroke-width="1.15"/>
<line x1="403.0" x2="682.8" y1="80.67" y2="80.67" stroke="#7f7f7f" stroke-width="1.15"/>
<line x1="403.0" x2="682.8" y1="106.75" y2="106.75" stroke="#7f7f7f" stroke-width="1.15"/>
<line x1="403.0" x2="682.8" y1="132.83" y2="132.83" stroke="#7f7f7f" stroke-width="1.15"/>
<line x1="403.0" x2="682.8" y1="158.91" y2="158.91" stroke="#7f7f7f" stroke-width="1.15"/>
<line x1="402.4" x2="682.8" y1="185.0" y2="185.0" stroke="#555" stroke-width="1.4"/>
<line x1="403.0" x2="403.0" y1="28.5" y2="185.0" stroke="#686868" stroke-width="1.3"/>
<path d="M402.5 28.5L682.8 28.5L682.8 185.5" stroke="#000" stroke-width="1.3" fill="none"/>
<path d="M403.9 35.5L407.2 38.8L403.9 42.1L400.6 38.8Z" fill="#4B8EDC"/>
<path d="M444.4 35.3L447.7 38.6L444.4 41.9L441.1 38.6Z" fill="#4B8EDC"/>
<path d="M458.0 35.0L461.3 38.3L458.0 41.6L454.7 38.3Z" fill="#4B8EDC"/>
<path d="M455.5 45.5L458.8 48.8L455.5 52.1L452.2 48.8Z" fill="#4B8EDC"/>
<path d="M469.5 33.2L472.8 36.5L469.5 39.8L466.2 36.5Z" fill="#4B8EDC"/>
<path d="M468.3 51.9L471.6 55.2L468.3 58.5L465.0 55.2Z" fill="#4B8EDC"/>
<path d="M475.0 35.6L478.3 38.9L475.0 42.2L471.7 38.9Z" fill="#4B8EDC"/>
<path d="M485.0 32.6L488.3 35.9L485.0 39.2L481.7 35.9Z" fill="#4B8EDC"/>
<path d="M516.5 37.2L519.8 40.5L516.5 43.8L513.2 40.5Z" fill="#4B8EDC"/>
<path d="M550.2 47.7L553.5 51.0L550.2 54.3L546.9 51.0Z" fill="#4B8EDC"/>
<path d="M555.7 52.3L559.0 55.6L555.7 58.9L552.4 55.6Z" fill="#4B8EDC"/>
<path d="M534.0 80.5L537.3 83.8L534.0 87.1L530.7 83.8Z" fill="#4B8EDC"/>
<path d="M528.5 72.1L531.8 75.4L528.5 78.7L525.2 75.4Z" fill="#4B8EDC"/>
<path d="M522.0 69.7L525.3 73.0L522.0 76.3L518.7 73.0Z" fill="#4B8EDC"/>
<path d="M539.4 72.7L542.7 76.0L539.4 79.3L536.1 76.0Z" fill="#4B8EDC"/>
<path d="M499.0 56.4L502.3 59.7L499.0 63.0L495.7 59.7Z" fill="#4B8EDC"/>
<path d="M559.9 77.2L563.2 80.5L559.9 83.8L556.6 80.5Z" fill="#4B8EDC"/>
<path d="M568.3 74.5L571.6 77.8L568.3 81.1L565.0 77.8Z" fill="#4B8EDC"/>
<path d="M553.9 68.5L557.2 71.8L553.9 75.1L550.6 71.8Z" fill="#4B8EDC"/>
<path d="M618.5 127.2L621.8 130.5L618.5 133.8L615.2 130.5Z" fill="#4B8EDC"/>
<path d="M631.7 124.4L635.0 127.7L631.7 131.0L628.4 127.7Z" fill="#4B8EDC"/>
<path d="M633.1 127.8L636.4 131.1L633.1 134.4L629.8 131.1Z" fill="#4B8EDC"/>
<path d="M637.1 128.8L640.4 132.1L637.1 135.4L633.8 132.1Z" fill="#4B8EDC"/>
<path d="M635.7 136.5L639.0 139.8L635.7 143.1L632.4 139.8Z" fill="#4B8EDC"/>
<path d="M645.8 133.2L649.1 136.5L645.8 139.8L642.5 136.5Z" fill="#4B8EDC"/>
<path d="M658.2 137.9L661.5 141.2L658.2 144.5L654.9 141.2Z" fill="#4B8EDC"/>
<path d="M637.1 123.8L640.4 127.1L637.1 130.4L633.8 127.1Z" fill="#4B8EDC"/>
<path d="M459.5 41.8L462.8 45.1L459.5 48.4L456.2 45.1Z" fill="#4B8EDC"/>
<path d="M462.7 41.6L466.0 44.9L462.7 48.2L459.4 44.9Z" fill="#4B8EDC"/>
<path d="M463.0 40.3L466.3 43.6L463.0 46.9L459.7 43.6Z" fill="#4B8EDC"/>
<path d="M466.9 42.6L470.2 45.9L466.9 49.2L463.6 45.9Z" fill="#4B8EDC"/>
<path d="M468.9 39.2L472.2 42.5L468.9 45.8L465.6 42.5Z" fill="#4B8EDC"/>
<path d="M471.6 37.7L474.9 41.0L471.6 44.3L468.3 41.0Z" fill="#4B8EDC"/>
<path d="M473.3 44.1L476.6 47.4L473.3 50.7L470.0 47.4Z" fill="#4B8EDC"/>
<path d="M475.5 44.4L478.8 47.7L475.5 51.0L472.2 47.7Z" fill="#4B8EDC"/>
<path d="M479.1 38.8L482.4 42.1L479.1 45.4L475.8 42.1Z" fill="#4B8EDC"/>
<path d="M479.0 46.7L482.3 50.0L479.0 53.3L475.7 50.0Z" fill="#4B8EDC"/>
<path d="M479.6 37.4L482.9 40.7L479.6 44.0L476.3 40.7Z" fill="#4B8EDC"/>
<path d="M481.2 46.6L484.5 49.9L481.2 53.2L477.9 49.9Z" fill="#4B8EDC"/>
<path d="M482.8 40.8L486.1 44.1L482.8 47.4L479.5 44.1Z" fill="#4B8EDC"/>
<path d="M484.1 42.7L487.4 46.0L484.1 49.3L480.8 46.0Z" fill="#4B8EDC"/>
<path d="M485.3 39.9L488.6 43.2L485.3 46.5L482.0 43.2Z" fill="#4B8EDC"/>
<path d="M486.7 41.4L490.0 44.7L486.7 48.0L483.4 44.7Z" fill="#4B8EDC"/>
<path d="M487.9 49.8L491.2 53.1L487.9 56.4L484.6 53.1Z" fill="#4B8EDC"/>
<path d="M488.4 49.3L491.7 52.6L488.4 55.9L485.1 52.6Z" fill="#4B8EDC"/>
<path d="M490.1 40.1L493.4 43.4L490.1 46.7L486.8 43.4Z" fill="#4B8EDC"/>
<path d="M491.7 43.2L495.0 46.5L491.7 49.8L488.4 46.5Z" fill="#4B8EDC"/>
<path d="M492.9 42.3L496.2 45.6L492.9 48.9L489.6 45.6Z" fill="#4B8EDC"/>
<path d="M493.9 52.5L497.2 55.8L493.9 59.1L490.6 55.8Z" fill="#4B8EDC"/>
<path d="M495.4 48.9L498.7 52.2L495.4 55.5L492.1 52.2Z" fill="#4B8EDC"/>
<path d="M497.0 53.6L500.3 56.9L497.0 60.2L493.7 56.9Z" fill="#4B8EDC"/>
<path d="M497.8 49.0L501.1 52.3L497.8 55.6L494.5 52.3Z" fill="#4B8EDC"/>
<path d="M499.3 43.3L502.6 46.6L499.3 49.9L496.0 46.6Z" fill="#4B8EDC"/>
<path d="M500.5 44.3L503.8 47.6L500.5 50.9L497.2 47.6Z" fill="#4B8EDC"/>
<path d="M501.5 45.9L504.8 49.2L501.5 52.5L498.2 49.2Z" fill="#4B8EDC"/>
<path d="M502.6 46.6L505.9 49.9L502.6 53.2L499.3 49.9Z" fill="#4B8EDC"/>
<path d="M504.6 44.9L507.9 48.2L504.6 51.5L501.3 48.2Z" fill="#4B8EDC"/>
<path d="M505.3 59.2L508.6 62.5L505.3 65.8L502.0 62.5Z" fill="#4B8EDC"/>
<path d="M507.6 46.6L510.9 49.9L507.6 53.2L504.3 49.9Z" fill="#4B8EDC"/>
<path d="M509.6 49.0L512.9 52.3L509.6 55.6L506.3 52.3Z" fill="#4B8EDC"/>
<path d="M510.3 53.3L513.6 56.6L510.3 59.9L507.0 56.6Z" fill="#4B8EDC"/>
<path d="M511.4 60.0L514.7 63.3L511.4 66.6L508.1 63.3Z" fill="#4B8EDC"/>
<path d="M513.1 46.5L516.4 49.8L513.1 53.1L509.8 49.8Z" fill="#4B8EDC"/>
<path d="M514.9 62.7L518.2 66.0L514.9 69.3L511.6 66.0Z" fill="#4B8EDC"/>
<path d="M515.9 51.3L519.2 54.6L515.9 57.9L512.6 54.6Z" fill="#4B8EDC"/>
<path d="M517.4 58.6L520.7 61.9L517.4 65.2L514.1 61.9Z" fill="#4B8EDC"/>
<path d="M519.9 54.8L523.2 58.1L519.9 61.4L516.6 58.1Z" fill="#4B8EDC"/>
<path d="M521.2 60.7L524.5 64.0L521.2 67.3L517.9 64.0Z" fill="#4B8EDC"/>
<path d="M522.8 53.0L526.1 56.3L522.8 59.6L519.5 56.3Z" fill="#4B8EDC"/>
<path d="M524.9 58.8L528.2 62.1L524.9 65.4L521.6 62.1Z" fill="#4B8EDC"/>
<path d="M526.5 60.5L529.8 63.8L526.5 67.1L523.2 63.8Z" fill="#4B8EDC"/>
<path d="M527.9 55.0L531.2 58.3L527.9 61.6L524.6 58.3Z" fill="#4B8EDC"/>
<path d="M529.4 52.0L532.7 55.3L529.4 58.6L526.1 55.3Z" fill="#4B8EDC"/>
<path d="M529.8 63.2L533.1 66.5L529.8 69.8L526.5 66.5Z" fill="#4B8EDC"/>
<path d="M532.6 67.7L535.9 71.0L532.6 74.3L529.3 71.0Z" fill="#4B8EDC"/>
<path d="M533.0 52.3L536.3 55.6L533.0 58.9L529.7 55.6Z" fill="#4B8EDC"/>
<path d="M535.0 52.3L538.3 55.6L535.0 58.9L531.7 55.6Z" fill="#4B8EDC"/>
<path d="M536.5 66.1L539.8 69.4L536.5 72.7L533.2 69.4Z" fill="#4B8EDC"/>
<path d="M537.7 53.3L541.0 56.6L537.7 59.9L534.4 56.6Z" fill="#4B8EDC"/>
<path d="M539.3 61.5L542.6 64.8L539.3 68.1L536.0 64.8Z" fill="#4B8EDC"/>
<path d="M541.7 68.7L545.0 72.0L541.7 75.3L538.4 72.0Z" fill="#4B8EDC"/>
<path d="M542.5 59.5L545.8 62.8L542.5 66.1L539.2 62.8Z" fill="#4B8EDC"/>
<path d="M545.0 59.3L548.3 62.6L545.0 65.9L541.7 62.6Z" fill="#4B8EDC"/>
<path d="M502.5 45.0L505.8 48.3L502.5 51.6L499.2 48.3Z" fill="#4B8EDC"/>
<path d="M508.6 44.9L511.9 48.2L508.6 51.5L505.3 48.2Z" fill="#4B8EDC"/>
<path d="M504.5 51.5L507.8 54.8L504.5 58.1L501.2 54.8Z" fill="#4B8EDC"/>
<path d="M510.6 54.2L513.9 57.5L510.6 60.8L507.3 57.5Z" fill="#4B8EDC"/>
<path d="M506.5 60.3L509.8 63.6L506.5 66.9L503.2 63.6Z" fill="#4B8EDC"/>
<path d="M512.6 62.7L515.9 66.0L512.6 69.3L509.3 66.0Z" fill="#4B8EDC"/>
<path d="M516.6 66.5L519.9 69.8L516.6 73.1L513.3 69.8Z" fill="#4B8EDC"/>
<path d="M518.6 58.9L521.9 62.2L518.6 65.5L515.3 62.2Z" fill="#4B8EDC"/>
<path d="M514.6 49.2L517.9 52.5L514.6 55.8L511.3 52.5Z" fill="#4B8EDC"/>
<path d="M524.7 59.1L528.0 62.4L524.7 65.7L521.4 62.4Z" fill="#4B8EDC"/>
<path d="M528.7 67.5L532.0 70.8L528.7 74.1L525.4 70.8Z" fill="#4B8EDC"/>
<path d="M532.8 69.9L536.1 73.2L532.8 76.5L529.5 73.2Z" fill="#4B8EDC"/>
<path d="M536.8 65.0L540.1 68.3L536.8 71.6L533.5 68.3Z" fill="#4B8EDC"/>
<path d="M540.8 69.9L544.1 73.2L540.8 76.5L537.5 73.2Z" fill="#4B8EDC"/>
<path d="M538.8 74.5L542.1 77.8L538.8 81.1L535.5 77.8Z" fill="#4B8EDC"/>
<path d="M530.7 54.9L534.0 58.2L530.7 61.5L527.4 58.2Z" fill="#4B8EDC"/>
<path d="M526.7 72.4L530.0 75.7L526.7 79.0L523.4 75.7Z" fill="#4B8EDC"/>
<path d="M522.7 70.1L526.0 73.4L522.7 76.7L519.4 73.4Z" fill="#4B8EDC"/>
<path d="M533.8 51.0L537.1 54.3L533.8 57.6L530.5 54.3Z" fill="#4B8EDC"/>
<path d="M531.7 49.6L535.0 52.9L531.7 56.2L528.4 52.9Z" fill="#4B8EDC"/>
<path d="M520.0 62.2L523.3 65.5L520.0 68.8L516.7 65.5Z" fill="#4B8EDC"/>
<path d="M526.0 64.4L529.3 67.7L526.0 71.0L522.7 67.7Z" fill="#4B8EDC"/>
<path d="M530.0 71.0L533.3 74.3L530.0 77.6L526.7 74.3Z" fill="#4B8EDC"/>
<path d="M536.0 68.0L539.3 71.3L536.0 74.6L532.7 71.3Z" fill="#4B8EDC"/>
<path d="M524.0 69.1L527.3 72.4L524.0 75.7L520.7 72.4Z" fill="#4B8EDC"/>
<path d="M516.0 62.3L519.3 65.6L516.0 68.9L512.7 65.6Z" fill="#4B8EDC"/>
<path d="M512.0 60.8L515.3 64.1L512.0 67.4L508.7 64.1Z" fill="#4B8EDC"/>
<path d="M528.0 61.6L531.3 64.9L528.0 68.2L524.7 64.9Z" fill="#4B8EDC"/>
<path d="M534.0 73.4L537.3 76.7L534.0 80.0L530.7 76.7Z" fill="#4B8EDC"/>
<path d="M400.5 36.5L407.3 43.3M400.5 43.3L407.3 36.5" stroke="#953735" stroke-width="1.6" fill="none"/>
<path d="M441.0 36.3L447.8 43.1M441.0 43.1L447.8 36.3" stroke="#953735" stroke-width="1.6" fill="none"/>
<path d="M454.6 36.4L461.4 43.2M454.6 43.2L461.4 36.4" stroke="#953735" stroke-width="1.6" fill="none"/>
<path d="M466.1 34.6L472.9 41.4M466.1 41.4L472.9 34.6" stroke="#953735" stroke-width="1.6" fill="none"/>
<path d="M471.6 37.0L478.4 43.8M471.6 43.8L478.4 37.0" stroke="#953735" stroke-width="1.6" fill="none"/>
<path d="M481.6 34.0L488.4 40.8M481.6 40.8L488.4 34.0" stroke="#953735" stroke-width="1.6" fill="none"/>
<path d="M451.6 46.4L458.4 53.2M451.6 53.2L458.4 46.4" stroke="#953735" stroke-width="1.6" fill="none"/>
<path d="M454.1 40.1L460.9 46.9M454.1 46.9L460.9 40.1" stroke="#953735" stroke-width="1.6" fill="none"/>
<path d="M457.1 36.6L463.9 43.4M457.1 43.4L463.9 36.6" stroke="#953735" stroke-width="1.6" fill="none"/>
<path d="M461.6 34.6L468.4 41.4M461.6 41.4L468.4 34.6" stroke="#953735" stroke-width="1.6" fill="none"/>
<path d="M464.9 51.8L471.7 58.6M464.9 58.6L471.7 51.8" stroke="#953735" stroke-width="1.6" fill="none"/>
<path d="M493.2 37.1L500.0 43.9M493.2 43.9L500.0 37.1" stroke="#953735" stroke-width="1.6" fill="none"/>
<path d="M513.1 37.5L519.9 44.3M513.1 44.3L519.9 37.5" stroke="#953735" stroke-width="1.6" fill="none"/>
<path d="M528.8 46.1L535.6 52.9M528.8 52.9L535.6 46.1" stroke="#953735" stroke-width="1.6" fill="none"/>
<path d="M546.8 48.0L553.6 54.8M546.8 54.8L553.6 48.0" stroke="#953735" stroke-width="1.6" fill="none"/>
<path d="M552.3 52.2L559.1 59.0M552.3 59.0L559.1 52.2" stroke="#953735" stroke-width="1.6" fill="none"/>
<path d="M540.8 56.4L547.6 63.2M540.8 63.2L547.6 56.4" stroke="#953735" stroke-width="1.6" fill="none"/>
<path d="M530.0 77.4L536.8 84.2M530.0 84.2L536.8 77.4" stroke="#953735" stroke-width="1.6" fill="none"/>
<path d="M552.3 62.3L559.1 69.1M552.3 69.1L559.1 62.3" stroke="#953735" stroke-width="1.6" fill="none"/>
<path d="M551.1 66.7L557.9 73.5M551.1 73.5L557.9 66.7" stroke="#953735" stroke-width="1.6" fill="none"/>
<path d="M556.5 71.4L563.3 78.2M556.5 78.2L563.3 71.4" stroke="#953735" stroke-width="1.6" fill="none"/>
<path d="M562.5 68.4L569.3 75.2M562.5 75.2L569.3 68.4" stroke="#953735" stroke-width="1.6" fill="none"/>
<path d="M567.9 69.0L574.7 75.8M567.9 75.8L574.7 69.0" stroke="#953735" stroke-width="1.6" fill="none"/>
<path d="M615.1 117.1L621.9 123.9M615.1 123.9L621.9 117.1" stroke="#953735" stroke-width="1.6" fill="none"/>
<path d="M627.7 112.7L634.5 119.5M627.7 119.5L634.5 112.7" stroke="#953735" stroke-width="1.6" fill="none"/>
<path d="M629.7 115.7L636.5 122.5M629.7 122.5L636.5 115.7" stroke="#953735" stroke-width="1.6" fill="none"/>
<path d="M633.7 106.6L640.5 113.4M633.7 113.4L640.5 106.6" stroke="#953735" stroke-width="1.6" fill="none"/>
<path d="M633.7 117.7L640.5 124.5M633.7 124.5L640.5 117.7" stroke="#953735" stroke-width="1.6" fill="none"/>
<path d="M632.3 124.3L639.1 131.1M632.3 131.1L639.1 124.3" stroke="#953735" stroke-width="1.6" fill="none"/>
<path d="M642.4 120.3L649.2 127.1M642.4 127.1L649.2 120.3" stroke="#953735" stroke-width="1.6" fill="none"/>
<path d="M654.8 124.3L661.6 131.1M654.8 131.1L661.6 124.3" stroke="#953735" stroke-width="1.6" fill="none"/>
<path d="M456.1 43.2L462.9 50.0M456.1 50.0L462.9 43.2" stroke="#953735" stroke-width="1.6" fill="none"/>
<path d="M459.3 42.5L466.1 49.3M459.3 49.3L466.1 42.5" stroke="#953735" stroke-width="1.6" fill="none"/>
<path d="M459.6 41.2L466.4 48.0M459.6 48.0L466.4 41.2" stroke="#953735" stroke-width="1.6" fill="none"/>
<path d="M463.5 45.8L470.3 52.6M463.5 52.6L470.3 45.8" stroke="#953735" stroke-width="1.6" fill="none"/>
<path d="M465.5 40.9L472.3 47.7M465.5 47.7L472.3 40.9" stroke="#953735" stroke-width="1.6" fill="none"/>
<path d="M468.2 40.4L475.0 47.2M468.2 47.2L475.0 40.4" stroke="#953735" stroke-width="1.6" fill="none"/>
<path d="M469.9 45.0L476.7 51.8M469.9 51.8L476.7 45.0" stroke="#953735" stroke-width="1.6" fill="none"/>
<path d="M472.1 47.1L478.9 53.9M472.1 53.9L478.9 47.1" stroke="#953735" stroke-width="1.6" fill="none"/>
<path d="M475.7 41.8L482.5 48.6M475.7 48.6L482.5 41.8" stroke="#953735" stroke-width="1.6" fill="none"/>
<path d="M475.6 48.0L482.4 54.8M475.6 54.8L482.4 48.0" stroke="#953735" stroke-width="1.6" fill="none"/>
<path d="M476.2 38.1L483.0 44.9M476.2 44.9L483.0 38.1" stroke="#953735" stroke-width="1.6" fill="none"/>
<path d="M477.8 48.0L484.6 54.8M477.8 54.8L484.6 48.0" stroke="#953735" stroke-width="1.6" fill="none"/>
<path d="M479.4 40.7L486.2 47.5M479.4 47.5L486.2 40.7" stroke="#953735" stroke-width="1.6" fill="none"/>
<path d="M480.7 43.4L487.5 50.2M480.7 50.2L487.5 43.4" stroke="#953735" stroke-width="1.6" fill="none"/>
<path d="M481.9 40.4L488.7 47.2M481.9 47.2L488.7 40.4" stroke="#953735" stroke-width="1.6" fill="none"/>
<path d="M483.3 40.9L490.1 47.7M483.3 47.7L490.1 40.9" stroke="#953735" stroke-width="1.6" fill="none"/>
<path d="M484.5 50.6L491.3 57.4M484.5 57.4L491.3 50.6" stroke="#953735" stroke-width="1.6" fill="none"/>
<path d="M485.0 48.7L491.8 55.5M485.0 55.5L491.8 48.7" stroke="#953735" stroke-width="1.6" fill="none"/>
<path d="M486.7 41.0L493.5 47.8M486.7 47.8L493.5 41.0" stroke="#953735" stroke-width="1.6" fill="none"/>
<path d="M488.3 41.8L495.1 48.6M488.3 48.6L495.1 41.8" stroke="#953735" stroke-width="1.6" fill="none"/>
<path d="M489.5 41.6L496.3 48.4M489.5 48.4L496.3 41.6" stroke="#953735" stroke-width="1.6" fill="none"/>
<path d="M490.5 50.9L497.3 57.7M490.5 57.7L497.3 50.9" stroke="#953735" stroke-width="1.6" fill="none"/>
<path d="M492.0 47.8L498.8 54.6M492.0 54.6L498.8 47.8" stroke="#953735" stroke-width="1.6" fill="none"/>
<path d="M493.6 54.3L500.4 61.1M493.6 61.1L500.4 54.3" stroke="#953735" stroke-width="1.6" fill="none"/>
<path d="M494.4 48.8L501.2 55.6M494.4 55.6L501.2 48.8" stroke="#953735" stroke-width="1.6" fill="none"/>
<path d="M495.9 41.1L502.7 47.9M495.9 47.9L502.7 41.1" stroke="#953735" stroke-width="1.6" fill="none"/>
<path d="M497.1 42.7L503.9 49.5M497.1 49.5L503.9 42.7" stroke="#953735" stroke-width="1.6" fill="none"/>
<path d="M498.1 44.7L504.9 51.5M498.1 51.5L504.9 44.7" stroke="#953735" stroke-width="1.6" fill="none"/>
<path d="M499.2 44.2L506.0 51.0M499.2 51.0L506.0 44.2" stroke="#953735" stroke-width="1.6" fill="none"/>
<path d="M501.2 42.5L508.0 49.3M501.2 49.3L508.0 42.5" stroke="#953735" stroke-width="1.6" fill="none"/>
<path d="M501.9 58.7L508.7 65.5M501.9 65.5L508.7 58.7" stroke="#953735" stroke-width="1.6" fill="none"/>
<path d="M504.2 45.5L511.0 52.3M504.2 52.3L511.0 45.5" stroke="#953735" stroke-width="1.6" fill="none"/>
<path d="M506.2 46.6L513.0 53.4M506.2 53.4L513.0 46.6" stroke="#953735" stroke-width="1.6" fill="none"/>
<path d="M506.9 51.3L513.7 58.1M506.9 58.1L513.7 51.3" stroke="#953735" stroke-width="1.6" fill="none"/>
<path d="M508.0 59.2L514.8 66.0M508.0 66.0L514.8 59.2" stroke="#953735" stroke-width="1.6" fill="none"/>
<path d="M509.7 45.0L516.5 51.8M509.7 51.8L516.5 45.0" stroke="#953735" stroke-width="1.6" fill="none"/>
<path d="M511.5 60.7L518.3 67.5M511.5 67.5L518.3 60.7" stroke="#953735" stroke-width="1.6" fill="none"/>
<path d="M512.5 47.4L519.3 54.2M512.5 54.2L519.3 47.4" stroke="#953735" stroke-width="1.6" fill="none"/>
<path d="M514.0 56.5L520.8 63.3M514.0 63.3L520.8 56.5" stroke="#953735" stroke-width="1.6" fill="none"/>
<path d="M516.5 51.5L523.3 58.3M516.5 58.3L523.3 51.5" stroke="#953735" stroke-width="1.6" fill="none"/>
<path d="M517.8 56.7L524.6 63.5M517.8 63.5L524.6 56.7" stroke="#953735" stroke-width="1.6" fill="none"/>
<path d="M519.4 51.4L526.2 58.2M519.4 58.2L526.2 51.4" stroke="#953735" stroke-width="1.6" fill="none"/>
<path d="M521.5 56.6L528.3 63.4M521.5 63.4L528.3 56.6" stroke="#953735" stroke-width="1.6" fill="none"/>
<path d="M523.1 56.6L529.9 63.4M523.1 63.4L529.9 56.6" stroke="#953735" stroke-width="1.6" fill="none"/>
<path d="M524.5 52.2L531.3 59.0M524.5 59.0L531.3 52.2" stroke="#953735" stroke-width="1.6" fill="none"/>
<path d="M526.0 47.8L532.8 54.6M526.0 54.6L532.8 47.8" stroke="#953735" stroke-width="1.6" fill="none"/>
<path d="M526.4 59.1L533.2 65.9M526.4 65.9L533.2 59.1" stroke="#953735" stroke-width="1.6" fill="none"/>
<path d="M529.2 64.1L536.0 70.9M529.2 70.9L536.0 64.1" stroke="#953735" stroke-width="1.6" fill="none"/>
<path d="M529.6 48.5L536.4 55.3M529.6 55.3L536.4 48.5" stroke="#953735" stroke-width="1.6" fill="none"/>
<path d="M531.6 47.6L538.4 54.4M531.6 54.4L538.4 47.6" stroke="#953735" stroke-width="1.6" fill="none"/>
<path d="M533.1 63.0L539.9 69.8M533.1 69.8L539.9 63.0" stroke="#953735" stroke-width="1.6" fill="none"/>
<path d="M534.3 50.0L541.1 56.8M534.3 56.8L541.1 50.0" stroke="#953735" stroke-width="1.6" fill="none"/>
<path d="M535.9 57.7L542.7 64.5M535.9 64.5L542.7 57.7" stroke="#953735" stroke-width="1.6" fill="none"/>
<path d="M538.3 65.3L545.1 72.1M538.3 72.1L545.1 65.3" stroke="#953735" stroke-width="1.6" fill="none"/>
<path d="M539.1 54.6L545.9 61.4M539.1 61.4L545.9 54.6" stroke="#953735" stroke-width="1.6" fill="none"/>
<path d="M541.6 54.6L548.4 61.4M541.6 61.4L548.4 54.6" stroke="#953735" stroke-width="1.6" fill="none"/>
<path d="M499.1 42.7L505.9 49.5M499.1 49.5L505.9 42.7" stroke="#953735" stroke-width="1.6" fill="none"/>
<path d="M505.2 41.7L512.0 48.5M505.2 48.5L512.0 41.7" stroke="#953735" stroke-width="1.6" fill="none"/>
<path d="M501.1 48.8L507.9 55.6M501.1 55.6L507.9 48.8" stroke="#953735" stroke-width="1.6" fill="none"/>
<path d="M507.2 50.8L514.0 57.6M507.2 57.6L514.0 50.8" stroke="#953735" stroke-width="1.6" fill="none"/>
<path d="M503.1 56.8L509.9 63.6M503.1 63.6L509.9 56.8" stroke="#953735" stroke-width="1.6" fill="none"/>
<path d="M509.2 60.9L516.0 67.7M509.2 67.7L516.0 60.9" stroke="#953735" stroke-width="1.6" fill="none"/>
<path d="M513.2 64.9L520.0 71.7M513.2 71.7L520.0 64.9" stroke="#953735" stroke-width="1.6" fill="none"/>
<path d="M515.2 54.8L522.0 61.6M515.2 61.6L522.0 54.8" stroke="#953735" stroke-width="1.6" fill="none"/>
<path d="M511.2 46.8L518.0 53.6M511.2 53.6L518.0 46.8" stroke="#953735" stroke-width="1.6" fill="none"/>
<path d="M521.3 56.8L528.1 63.6M521.3 63.6L528.1 56.8" stroke="#953735" stroke-width="1.6" fill="none"/>
<path d="M525.3 62.9L532.1 69.7M525.3 69.7L532.1 62.9" stroke="#953735" stroke-width="1.6" fill="none"/>
<path d="M529.4 66.9L536.2 73.7M529.4 73.7L536.2 66.9" stroke="#953735" stroke-width="1.6" fill="none"/>
<path d="M533.4 60.9L540.2 67.7M533.4 67.7L540.2 60.9" stroke="#953735" stroke-width="1.6" fill="none"/>
<path d="M537.4 66.9L544.2 73.7M537.4 73.7L544.2 66.9" stroke="#953735" stroke-width="1.6" fill="none"/>
<path d="M535.4 71.0L542.2 77.8M535.4 77.8L542.2 71.0" stroke="#953735" stroke-width="1.6" fill="none"/>
<path d="M527.3 52.8L534.1 59.6M527.3 59.6L534.1 52.8" stroke="#953735" stroke-width="1.6" fill="none"/>
<path d="M523.3 68.9L530.1 75.7M523.3 75.7L530.1 68.9" stroke="#953735" stroke-width="1.6" fill="none"/>
<path d="M519.3 65.9L526.1 72.7M519.3 72.7L526.1 65.9" stroke="#953735" stroke-width="1.6" fill="none"/>
<path d="M530.4 47.8L537.2 54.6M530.4 54.6L537.2 47.8" stroke="#953735" stroke-width="1.6" fill="none"/>
<path d="M528.3 45.8L535.1 52.6M528.3 52.6L535.1 45.8" stroke="#953735" stroke-width="1.6" fill="none"/>
<path d="M516.6 58.6L523.4 65.4M516.6 65.4L523.4 58.6" stroke="#953735" stroke-width="1.6" fill="none"/>
<path d="M522.6 62.6L529.4 69.4M522.6 69.4L529.4 62.6" stroke="#953735" stroke-width="1.6" fill="none"/>
<path d="M526.6 67.1L533.4 73.9M526.6 73.9L533.4 67.1" stroke="#953735" stroke-width="1.6" fill="none"/>
<path d="M532.6 64.6L539.4 71.4M532.6 71.4L539.4 64.6" stroke="#953735" stroke-width="1.6" fill="none"/>
<path d="M520.6 66.6L527.4 73.4M520.6 73.4L527.4 66.6" stroke="#953735" stroke-width="1.6" fill="none"/>
<path d="M512.6 60.6L519.4 67.4M512.6 67.4L519.4 60.6" stroke="#953735" stroke-width="1.6" fill="none"/>
<path d="M508.6 56.6L515.4 63.4M508.6 63.4L515.4 56.6" stroke="#953735" stroke-width="1.6" fill="none"/>
<path d="M524.6 58.6L531.4 65.4M524.6 65.4L531.4 58.6" stroke="#953735" stroke-width="1.6" fill="none"/>
<path d="M530.6 69.6L537.4 76.4M530.6 76.4L537.4 69.6" stroke="#953735" stroke-width="1.6" fill="none"/>
<text x="394.8" y="32" text-anchor="end" class="t">1</text>
<text x="394.8" y="58" text-anchor="end" class="t">0.9</text>
<text x="394.8" y="85" text-anchor="end" class="t">0.8</text>
<text x="394.8" y="111" text-anchor="end" class="t">0.7</text>
<text x="394.8" y="137" text-anchor="end" class="t">0.6</text>
<text x="394.8" y="163" text-anchor="end" class="t">0.5</text>
<text x="394.8" y="189" text-anchor="end" class="t">0.4</text>
<text x="404" y="201.2" text-anchor="middle" class="t">1205</text>
<text x="465" y="201.2" text-anchor="middle" class="t">1705</text>
<text x="526" y="201.2" text-anchor="middle" class="t">2205</text>
<text x="587" y="201.2" text-anchor="middle" class="t">2705</text>
<text x="648.5" y="201.2" text-anchor="middle" class="t">3205</text>
<text x="534.4" y="220" text-anchor="middle" class="b">AVTOP10_50K</text>
<text transform="translate(367.2,187.3) rotate(-90)" textLength="65.9" lengthAdjust="spacingAndGlyphs" class="by">Imputation</text>
<text transform="translate(367.2,117.2) rotate(-90)" textLength="54.6" lengthAdjust="spacingAndGlyphs" class="by">accuracy</text>
<text transform="translate(367.2,58.2) rotate(-90)" textLength="24.8" lengthAdjust="spacingAndGlyphs" class="by">(CR)</text>
<path d="M494.1 238.6L497.4 241.9L494.1 245.2L490.8 241.9Z" fill="#4B8EDC"/>
<text x="500.1" y="245.2" class="l">5K50K</text>
<path d="M540.6 238.5L547.4 245.3M540.6 245.3L547.4 238.5" stroke="#953735" stroke-width="1.6" fill="none"/>
<text x="550.1" y="245.2" class="l">5KHD</text>
<text x="8.5" y="17.6" class="p">a</text>
<text x="359" y="17.6" class="p">b</text>
</svg>
</body></html>
